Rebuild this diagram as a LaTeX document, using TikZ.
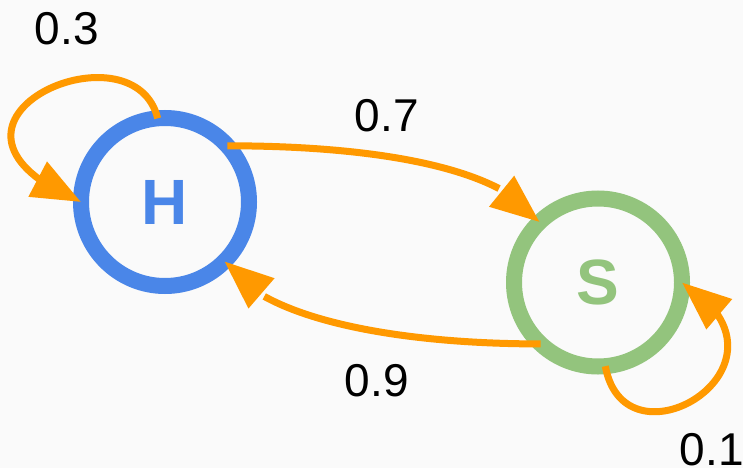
\documentclass[tikz,border=0pt]{standalone}
\usepackage{fontspec}
\setmainfont{Liberation Sans}
\usetikzlibrary{arrows.meta,bending}
\definecolor{bgcol}{HTML}{FAFAFA}
\definecolor{hblue}{HTML}{4A86E8}
\definecolor{sgreen}{HTML}{93C47D}
\definecolor{edgeorange}{HTML}{FF9900}
\begin{document}
\begin{tikzpicture}[x=1pt,y=-1pt,
  state/.style={circle, draw, line width=16pt, minimum size=168pt,
    inner sep=0pt, outer sep=0pt, font=\fontsize{64}{64}\selectfont\bfseries},
  trans/.style={draw=edgeorange, line width=7pt,
    -{Triangle[length=49pt,width=38pt,flex]}},
  prob/.style={anchor=base, inner sep=0pt, font=\fontsize{46}{46}\selectfont}]
% canvas
\useasboundingbox (0,0) rectangle (743,468);
\fill[bgcol] (0,0) rectangle (743,468);
% states
\node[state, draw=hblue, text=hblue] (H) at (165,202) {H};
\node[state, draw=sgreen, text=sgreen] (S) at (598,282.5) {S};
% transitions between states
\draw[trans] (H.42.7) .. controls +(150,0) and +(-36,-54) .. (S.134.8);
\draw[trans] (S.227.5) .. controls +(-150,0) and +(34,56) .. (H.315.1);
% self loops
\draw[trans] (H.95.3) .. controls +(-25,-100) and +(-185,-78) .. (H.180);
\draw[trans] (S.275.6) .. controls +(20,110) and +(130,80) .. (S.0);
% transition probabilities
\node[prob] (p03) at (66.7,45) {0.3};
\node[prob] (p07) at (386.7,131.7) {0.7};
\node[prob] (p09) at (376.7,396.7) {0.9};
\node[prob] (p01) at (711.7,465) {0.1};
\end{tikzpicture}
\end{document}
